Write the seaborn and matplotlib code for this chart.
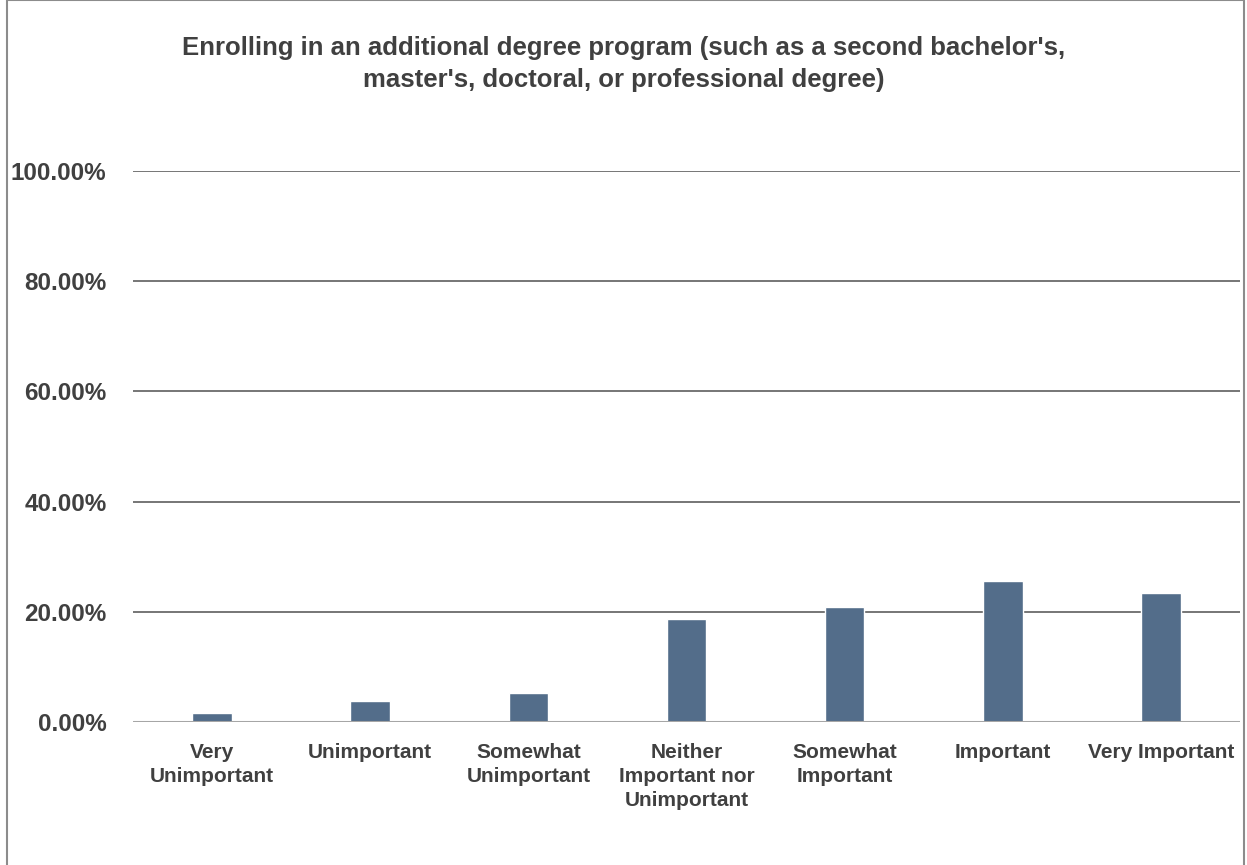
import numpy as np
import pandas as pd
import matplotlib
matplotlib.use("Agg")
import matplotlib.pyplot as plt
import seaborn as sns
from matplotlib.patches import Rectangle

# data
categories = ["Very\nUnimportant", "Unimportant", "Somewhat\nUnimportant",
              "Neither\nImportant nor\nUnimportant", "Somewhat\nImportant",
              "Important", "Very Important"]
percent = [1.7, 3.9, 5.3, 18.7, 20.9, 25.6, 23.4]
y_ticks = [0, 20, 40, 60, 80, 100]
title = ("Enrolling in an additional degree program (such as a second bachelor's,\n"
         "master's, doctoral, or professional degree)")

sns.set_style("white")
plt.rcParams['font.family'] = ['Liberation Sans', 'DejaVu Sans']

df = pd.DataFrame({"Response": categories, "Percent": percent})

fig = plt.figure(figsize=(12.47, 8.65), dpi=100)
ax = fig.add_axes([133 / 1247, 1 - 722 / 865, (1240 - 133) / 1247, (722 - 171) / 865])

sns.barplot(data=df, x="Response", y="Percent", color="#536d8a", width=0.25,
            saturation=1, ax=ax, zorder=3)

ax.set_ylim(0, 100)
ax.set_yticks(y_ticks)
ax.set_yticklabels([f"{v:.2f}%" for v in y_ticks])
for v in y_ticks[1:]:
    ax.axhline(v, color="#767676", lw=1.4, zorder=1)
ax.axhline(0, color="#a6a6a6", lw=2.2, zorder=4)

for s in ax.spines.values():
    s.set_visible(False)
ax.tick_params(axis="y", length=0, pad=19, labelsize=17.5, labelcolor="#404040")
ax.tick_params(axis="x", length=0, pad=15, labelsize=15, labelcolor="#404040")
for lbl in ax.get_yticklabels() + ax.get_xticklabels():
    lbl.set_fontweight("bold")
for lbl in ax.get_xticklabels():
    lbl.set_linespacing(1.35)
ax.set_xlabel("")
ax.set_ylabel("")

fig.text(0.5, 1 - 64 / 865, title, ha="center", va="center", fontsize=18.5,
         fontweight="bold", color="#404040", linespacing=1.4)

fig.patches.append(Rectangle((7 / 1247, -0.01), (1244 - 7) / 1247, 1.0095,
                             transform=fig.transFigure, fill=False,
                             edgecolor="#8c8c8c", lw=1.5))

fig.savefig("out.png", dpi=100)
